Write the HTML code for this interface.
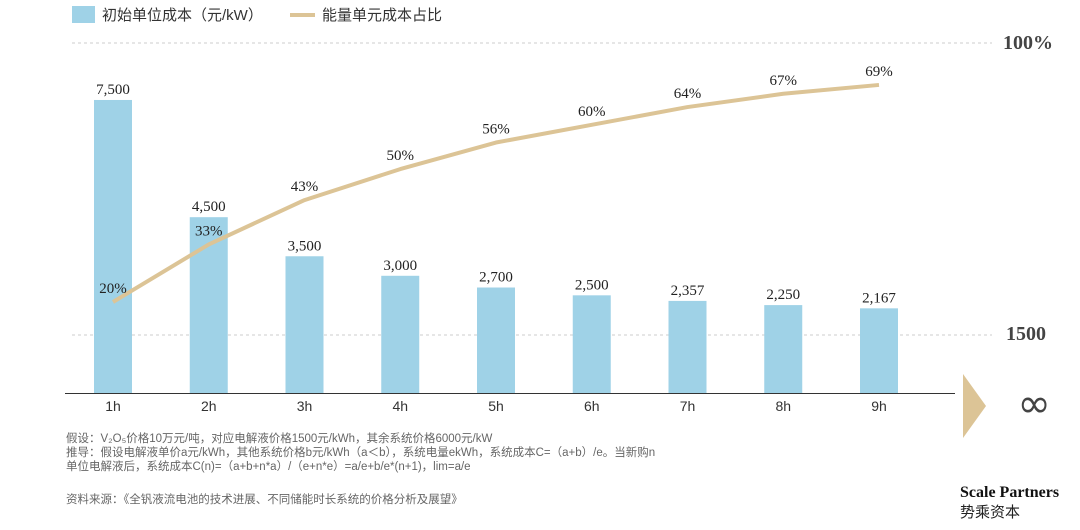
<!DOCTYPE html>
<html><head><meta charset="utf-8">
<style>
body{margin:0;background:#fff;width:1080px;height:530px;overflow:hidden;font-family:"Liberation Sans","Noto Sans CJK SC",sans-serif;}
.note{position:absolute;left:66px;font-size:11.5px;color:#666;line-height:14px;}
</style></head><body>
<svg id="chart" width="1080" height="530" style="position:absolute;left:0;top:0">
<rect x="72" y="6" width="23" height="17" fill="#9fd2e7"/>
<text x="102" y="20" font-size="15" fill="#333" font-family="Liberation Sans,Noto Sans CJK SC,sans-serif">初始单位成本（元/kW）</text>
<line x1="290" y1="15" x2="315" y2="15" stroke="#dcc496" stroke-width="4"/>
<text x="322" y="20" font-size="15" fill="#333" font-family="Liberation Sans,Noto Sans CJK SC,sans-serif">能量单元成本占比</text>
<line x1="72" y1="43" x2="992" y2="43" stroke="#ccc" stroke-dasharray="3,3"/>
<line x1="72" y1="335" x2="992" y2="335" stroke="#ccc" stroke-dasharray="3,3"/>
<text x="1003" y="49" font-size="20" font-weight="bold" fill="#444" font-family="Liberation Serif,serif">100%</text>
<text x="1006" y="340" font-size="20" font-weight="bold" fill="#444" font-family="Liberation Serif,serif">1500</text>
<polygon points="963,374 986,406 963,438" fill="#dcc496"/>
<text x="1034" y="417" font-size="40" fill="#444" text-anchor="middle" font-family="DejaVu Sans,sans-serif">∞</text>
<text x="960" y="497" font-size="16" font-weight="bold" fill="#111" font-family="Liberation Serif,serif">Scale Partners</text>
<text x="960" y="517" font-size="15" fill="#222" font-family="Liberation Sans,Noto Sans CJK SC,sans-serif">势乘资本</text>
<g id="bars"></g><g id="line"></g><g id="labels"></g>
<line x1="65" y1="393.5" x2="955" y2="393.5" stroke="#333" stroke-width="1"/>
<g id="xticks"></g>
</svg>
<div class="note" style="top:432px">假设：V₂O₅价格10万元/吨，对应电解液价格1500元/kWh，其余系统价格6000元/kW<br>推导：假设电解液单价a元/kWh，其他系统价格b元/kWh（a＜b），系统电量ekWh，系统成本C=（a+b）/e。当新购n<br>单位电解液后，系统成本C(n)=（a+b+n*a）/（e+n*e）=a/e+b/e*(n+1)，lim=a/e</div>
<div class="note" style="top:493px">资料来源：《全钒液流电池的技术进展、不同储能时长系统的价格分析及展望》</div>
<script>
const categories=["1h","2h","3h","4h","5h","6h","7h","8h","9h"];
const costValues=[7500,4500,3500,3000,2700,2500,2357,2250,2167];
const shareValues=[20,33,43,50,56,60,64,67,69];
const NS="http://www.w3.org/2000/svg";
function xPos(i){return 113+i*95.75;}
function yBar(v){return 393-v*0.03907;}
function yLine(p){return 302-(p-20)*4.43;}
function mk(tag,attrs,parent,txt){const e=document.createElementNS(NS,tag);for(const k in attrs)e.setAttribute(k,attrs[k]);if(txt!==undefined)e.textContent=txt;document.getElementById(parent).appendChild(e);return e;}
categories.forEach((c,i)=>{
  const x=xPos(i),y=yBar(costValues[i]);
  const b=mk('rect',{x:x-19,y:y,width:38,height:393-y,fill:'#9fd2e7'},'bars');
  
  
  const t=mk('text',{x:x,y:y-6,'text-anchor':'middle','font-size':15,fill:'#222','font-family':'Liberation Serif,serif'},'labels',costValues[i].toLocaleString('en-US'));
  
  
  const xl=mk('text',{x:x,y:411,'text-anchor':'middle','font-size':14,fill:'#333'},'xticks',c);
  
  
  const pl=mk('text',{x:x,y:yLine(shareValues[i])-9,'text-anchor':'middle','font-size':15,fill:'#222','font-family':'Liberation Serif,serif'},'labels',shareValues[i]+'%');
  
  
});
const pts=shareValues.map((p,i)=>xPos(i)+','+yLine(p)).join(' ');
const pl=mk('polyline',{points:pts,fill:'none',stroke:'#dcc496','stroke-width':4,'stroke-linejoin':'round'},'line');


</script>
</body></html>
